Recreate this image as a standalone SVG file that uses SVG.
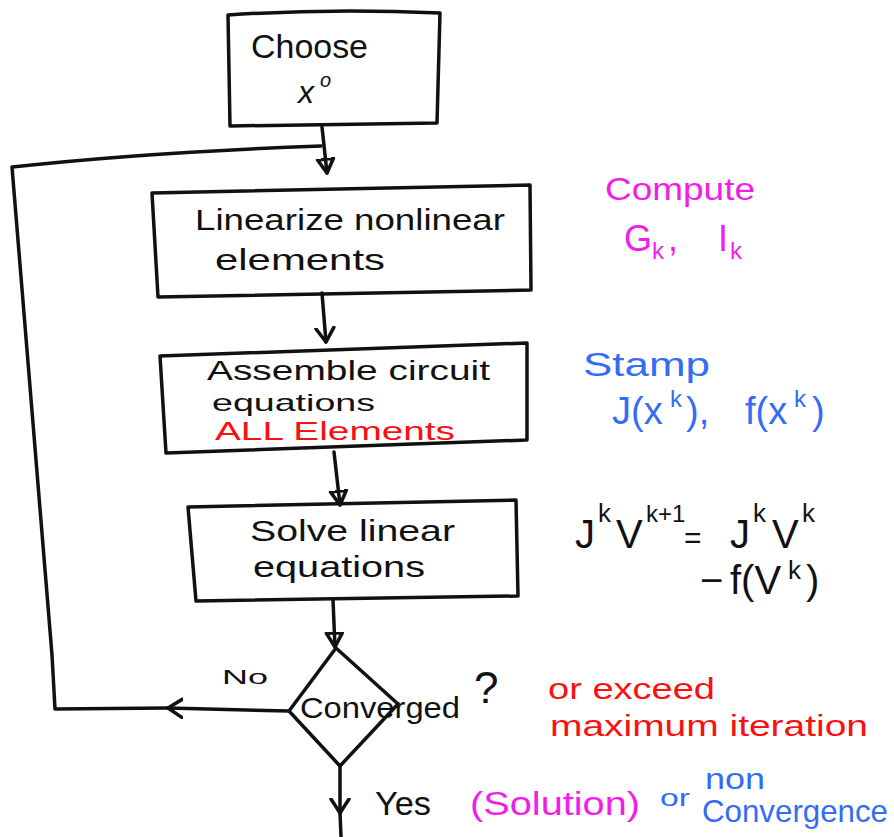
<svg xmlns="http://www.w3.org/2000/svg" width="894" height="837" viewBox="0 0 894 837">
<style>
.ln{fill:none;stroke:#111;stroke-width:3.5;stroke-linecap:round;stroke-linejoin:round}
.t{font-family:"Liberation Sans","DejaVu Sans",sans-serif;fill:#111}
.mag{fill:#f21de6}
.blu{fill:#336cf5}
.red{fill:#fa1010}
</style>
<defs>
<marker id="vee" markerUnits="userSpaceOnUse" markerWidth="30" markerHeight="30" viewBox="-15 -15 30 30" refX="0" refY="0" orient="auto">
<path d="M-14,-9 L0,0 L-14,9" fill="none" stroke="#111" stroke-width="3.5" stroke-linecap="round" stroke-linejoin="round"/>
</marker>
<marker id="tri" markerUnits="userSpaceOnUse" markerWidth="30" markerHeight="30" viewBox="-15 -15 30 30" refX="0" refY="0" orient="auto">
<path d="M-14,-8 L0,0 L-14,8 Z" fill="none" stroke="#111" stroke-width="3.5" stroke-linejoin="round"/>
</marker>
</defs>
<rect width="894" height="837" fill="#fff"/>

<g id="connectors">
<path class="ln" d="M322,127 L327,173" marker-end="url(#tri)"/>
<path class="ln" d="M322,293 L326,342" marker-end="url(#vee)"/>
<path class="ln" d="M334,452 L340,505" marker-end="url(#tri)"/>
<path class="ln" d="M333,600 L335,647" marker-end="url(#tri)"/>
<path class="ln" d="M288,711 L168,708" marker-end="url(#vee)"/>
<path class="ln" d="M168,708 L55,709 L52,655 L12,167 Q150,152 321,146"/>
<path class="ln" d="M340,766 L340,813" marker-end="url(#vee)"/>
<path class="ln" d="M340,813 L341,836"/>
</g>

<g id="choose">
<path class="ln" d="M228,15 Q330,8 440,13 L437,123 L230,126 Z"/>
<text class="t" x="251" y="58" font-size="33" textLength="117" lengthAdjust="spacingAndGlyphs">Choose</text>
<text class="t" x="298" y="103" font-size="32" font-style="italic">x<tspan dx="6" dy="-16" font-size="20">o</tspan></text>
</g>

<g id="linearize">
<path class="ln" d="M152,193 L530,185 L531,290 L158,297 Z"/>
<text class="t" x="195" y="230" font-size="29" textLength="310" lengthAdjust="spacingAndGlyphs">Linearize  nonlinear</text>
<text class="t" x="215" y="270" font-size="30" textLength="170" lengthAdjust="spacingAndGlyphs">elements</text>
</g>

<g id="assemble">
<path class="ln" d="M160,356 L527,343 L527,440 L166,453 Z"/>
<text class="t" x="207" y="380" font-size="28" textLength="283" lengthAdjust="spacingAndGlyphs">Assemble circuit</text>
<text class="t" x="212" y="411" font-size="24" textLength="163" lengthAdjust="spacingAndGlyphs">equations</text>
<text class="t red" x="215" y="440" font-size="25" textLength="240" lengthAdjust="spacingAndGlyphs">ALL  Elements</text>
</g>

<g id="solve">
<path class="ln" d="M188,507 L516,500 L518,596 L196,601 Z"/>
<text class="t" x="250" y="541" font-size="29" textLength="205" lengthAdjust="spacingAndGlyphs">Solve  linear</text>
<text class="t" x="253" y="577" font-size="29" textLength="172" lengthAdjust="spacingAndGlyphs">equations</text>
</g>

<g id="converged">
<path class="ln" d="M336,648 L398,704 L340,766 L289,711 Z"/>
<text class="t" x="300" y="718" font-size="29" textLength="160" lengthAdjust="spacingAndGlyphs">Converged</text>
<text class="t" x="474" y="703" font-size="44">?</text>
</g>

<g id="labels">
<text class="t" x="222" y="684" font-size="21" textLength="46" lengthAdjust="spacingAndGlyphs">No</text>
<text class="t" x="375" y="815" font-size="34" textLength="56" lengthAdjust="spacingAndGlyphs">Yes</text>
<text class="t mag" x="470" y="815" font-size="34" textLength="170" lengthAdjust="spacingAndGlyphs">(Solution)</text>
<text class="t blu" x="660" y="806" font-size="23" textLength="30" lengthAdjust="spacingAndGlyphs">or</text>
<text class="t blu" x="705" y="789" font-size="30" textLength="60" lengthAdjust="spacingAndGlyphs">non</text>
<text class="t blu" x="702" y="822" font-size="32" textLength="186" lengthAdjust="spacingAndGlyphs">Convergence</text>
<text class="t red" x="548" y="699" font-size="29" textLength="167" lengthAdjust="spacingAndGlyphs">or  exceed</text>
<text class="t red" x="550" y="736" font-size="29" textLength="318" lengthAdjust="spacingAndGlyphs">maximum  iteration</text>
<text class="t mag" x="605" y="200" font-size="31" textLength="150" lengthAdjust="spacingAndGlyphs">Compute</text>
<text class="t mag" y="251" font-size="36"><tspan x="624">G</tspan><tspan x="652" dy="8" font-size="24">k</tspan><tspan x="668" dy="-8">,</tspan><tspan x="718">I</tspan><tspan x="730" dy="8" font-size="24">k</tspan></text>
<text class="t blu" x="583" y="376" font-size="34" textLength="127" lengthAdjust="spacingAndGlyphs">Stamp</text>
<text class="t blu" y="424" font-size="38"><tspan x="612">J(x</tspan><tspan x="670" dy="-17" font-size="24">k</tspan><tspan x="686" dy="17">),</tspan><tspan x="745">f(x</tspan><tspan x="794" dy="-17" font-size="24">k</tspan><tspan x="812" dy="17">)</tspan></text>
<text class="t" y="548" font-size="40"><tspan x="575">J</tspan><tspan x="598" dy="-26" font-size="26">k</tspan><tspan x="616" dy="26">V</tspan><tspan x="646" dy="-26" font-size="24">k+1</tspan><tspan x="684" dy="26" font-size="30">=</tspan><tspan x="730">J</tspan><tspan x="753" dy="-26" font-size="26">k</tspan><tspan x="772" dy="26">V</tspan><tspan x="802" dy="-26" font-size="26">k</tspan></text>
<text class="t" y="594" font-size="40"><tspan x="700">−</tspan><tspan x="730">f(V</tspan><tspan x="788" dy="-15" font-size="26">k</tspan><tspan x="806" dy="15">)</tspan></text>
</g>
</svg>
